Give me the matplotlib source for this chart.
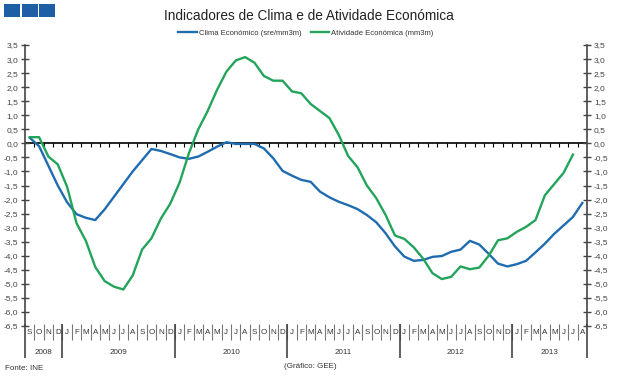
import matplotlib
matplotlib.use("Agg")
import matplotlib.pyplot as plt
import numpy as np
from matplotlib.patches import Rectangle

plt.rcParams['font.family'] = ['Liberation Sans', 'DejaVu Sans']

# Sep 2008 .. Aug 2013
month_letters = ["S", "O", "N", "D"] + ["J", "F", "M", "A", "M", "J", "J", "A", "S", "O", "N", "D"] * 4 + ["J", "F", "M", "A", "M", "J", "J", "A"]
years = ["2008", "2009", "2010", "2011", "2012", "2013"]
year_months = [4, 12, 12, 12, 12, 8]

clima = [0.2, -0.1, -0.8, -1.5, -2.1, -2.52, -2.65, -2.73, -2.35, -1.9, -1.45, -1.0,
         -0.6, -0.2, -0.27, -0.38, -0.5, -0.55, -0.47, -0.3, -0.12, 0.04, -0.02, -0.02,
         -0.02, -0.18, -0.53, -0.98, -1.15, -1.3, -1.37, -1.72, -1.92, -2.08, -2.2, -2.34,
         -2.55, -2.81, -3.2, -3.67, -4.03, -4.18, -4.15, -4.04, -4.01, -3.86, -3.78, -3.47,
         -3.6, -3.93, -4.28, -4.38, -4.3, -4.18, -3.88, -3.57, -3.22, -2.92, -2.62, -2.12]

atividade = [0.22, 0.22, -0.47, -0.75, -1.55, -2.84, -3.47, -4.4, -4.9, -5.1, -5.2, -4.7,
             -3.78, -3.38, -2.68, -2.15, -1.4, -0.35, 0.5, 1.15, 1.9, 2.55, 2.95, 3.07,
             2.87, 2.4, 2.23, 2.23, 1.85, 1.78, 1.4, 1.15, 0.9, 0.3, -0.45, -0.85,
             -1.5, -1.95, -2.55, -3.28, -3.4, -3.7, -4.1, -4.62, -4.83, -4.75, -4.38, -4.48,
             -4.42, -4.0, -3.45, -3.38, -3.15, -2.97, -2.73, -1.85, -1.45, -1.05, -0.4, np.nan]

BLUE = "#1F6CB0"
GREEN = "#22A45A"
AXC = "#444444"
TXT = "#333333"

W, H = 617, 379
fig = plt.figure(figsize=(W / 100, H / 100), dpi=100)
L, R, T, B = 25, 587, 45, 326
ax = fig.add_axes([L / W, 1 - B / H, (R - L) / W, (B - T) / H])

n = len(clima)
x = np.arange(n)
ax.plot(x, clima, color=BLUE, lw=1.7, label="Clima Económico (sre/mm3m)", solid_joinstyle='round')
ax.plot(x, atividade, color=GREEN, lw=1.7, label="Atividade Económica (mm3m)", solid_joinstyle='round')

ax.set_xlim(-0.5, n - 0.5)
ax.set_ylim(-6.5, 3.5)
yt = np.arange(-6.5, 3.51, 0.5)
ax.set_yticks(yt)
ax.set_yticklabels([f"{v:.1f}".replace(".", ",") for v in yt])
ax.set_xticks([])
for s in ["top", "bottom", "right"]:
    ax.spines[s].set_visible(False)
ax.spines["left"].set_color(AXC)
ax.spines["left"].set_linewidth(1.2)
ax.tick_params(axis="y", direction="inout", length=6, width=1, color=AXC,
               labelsize=6, labelcolor="#444444", pad=2)

ax2 = ax.twinx()
ax2.set_ylim(-6.5, 3.5)
ax2.set_yticks(yt)
ax2.set_yticklabels([f"{v:.1f}".replace(".", ",") for v in yt])
for s in ["top", "bottom", "left"]:
    ax2.spines[s].set_visible(False)
ax2.spines["right"].set_color(AXC)
ax2.spines["right"].set_linewidth(1.2)
ax2.tick_params(axis="y", direction="inout", length=6, width=1, color=AXC,
                labelsize=6, labelcolor="#444444", pad=2)

# zero line with small ticks at month boundaries
ax.axhline(0, color="black", lw=1.2, zorder=1)
bounds = np.arange(0.5, n - 0.5, 1)
ax.vlines(bounds, -0.12, 0, color="black", lw=0.8, zorder=1)

# category axis (months + years)
tr = ax.get_xaxis_transform()
axh = B - T
def ay(py):
    return (B - py) / axh

ax.vlines(bounds, ay(340), ay(324), color="#777777", lw=0.8, transform=tr, clip_on=False)
for i, m in enumerate(month_letters):
    ax.text(i, ay(333), m, transform=tr, ha="center", va="center", fontsize=5.8, color=TXT)

edges = np.concatenate([[0], np.cumsum(year_months)]) - 0.5
ax.vlines(edges, ay(358), ay(324), color=AXC, lw=1.2, transform=tr, clip_on=False)
for k, yr in enumerate(years):
    c = (edges[k] + edges[k + 1]) / 2
    ax.text(c, ay(352), yr, transform=tr, ha="center", va="center", fontsize=5.8, color=TXT)

# title & legend
fig.text(309 / W, 1 - 16 / H, "Indicadores de Clima e de Atividade Económica",
         ha="center", va="center", fontsize=9.8, color="#222222")
leg = ax.legend(loc="center", bbox_to_anchor=(0.5, 1 + (T - 33) / axh), ncol=2, frameon=False,
                fontsize=5.5, handlelength=2.4, handletextpad=0.3, columnspacing=1.2,
                labelcolor=TXT)

# logo squares
for k in range(3):
    fig.add_artist(Rectangle(((4 + 17.5 * k) / W, 1 - 17 / H), 16 / W, 13 / H,
                             transform=fig.transFigure, color="#1D5EA6", lw=0))

fig.text(5 / W, 1 - 368 / H, "Fonte: INE", ha="left", va="center", fontsize=5.8, color=TXT)
fig.text(310 / W, 1 - 367 / H, "(Gráfico: GEE)", ha="center", va="center", fontsize=5.8, color=TXT)

fig.savefig("out.png", dpi=100)
